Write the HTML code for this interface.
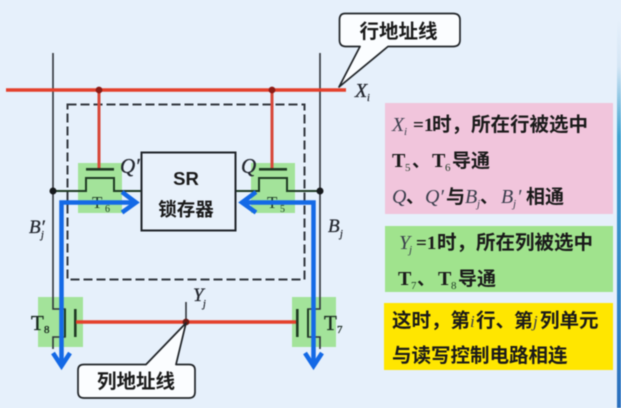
<!DOCTYPE html>
<html lang="zh">
<head>
<meta charset="utf-8">
<style>
html,body{margin:0;padding:0;background:#e6f0fb;}
#c{position:relative;width:621px;height:408px;overflow:hidden;background:#e6f0fb;filter:blur(0.5px);}
svg{position:absolute;left:0;top:0;}
.cjk{font-family:"Liberation Sans","Noto Sans CJK SC",sans-serif;font-weight:700;fill:#1a1a1a;}
.it{font-family:"Liberation Serif",serif;font-style:italic;font-weight:400;fill:#23272f;stroke:#23272f;stroke-width:0.3px;}
.il{font-family:"Liberation Serif",serif;font-style:italic;font-weight:400;fill:#3a3e4c;}
.rm{font-family:"Liberation Serif",serif;font-weight:700;fill:#1a1a1a;}
.rs{font-family:"Liberation Serif",serif;font-weight:400;fill:#1a2a20;stroke:#1a2a20;stroke-width:0.35px;}
.rn{font-family:"Liberation Serif",serif;font-weight:400;fill:#1c3a24;}
</style>
</head>
<body>
<div id="c">
<svg width="621" height="408" viewBox="0 0 621 408" xmlns="http://www.w3.org/2000/svg">
<defs>
<linearGradient id="edge" x1="0" y1="0" x2="0" y2="1">
<stop offset="0" stop-color="#e6f0fb"/>
<stop offset="0.12" stop-color="#d5e6f5"/>
<stop offset="0.3" stop-color="#3fa3d0"/>
<stop offset="1" stop-color="#2a6fbe"/>
</linearGradient>
</defs>

<rect x="617" y="20" width="4" height="388" fill="url(#edge)"/>

<!-- green transistor zones -->
<rect x="78" y="163" width="44" height="50" fill="#a3e39a"/>
<rect x="251" y="163" width="44" height="50" fill="#a3e39a"/>
<rect x="38" y="297" width="45" height="50" fill="#a3e39a"/>
<rect x="292" y="297" width="44" height="50" fill="#a3e39a"/>

<!-- dashed cell -->
<rect x="67.500" y="104.500" width="237" height="175" fill="none" stroke="#33383f" stroke-width="2" stroke-dasharray="9 4"/>

<!-- bit lines -->
<path d="M53 53V309H65V337H53V349" fill="none" stroke="#30343a" stroke-width="1.600"/>
<path d="M320 53V309H308V337H320V349" fill="none" stroke="#30343a" stroke-width="1.600"/>

<!-- source-drain -->
<path d="M53 191H86V178H114V191H141" fill="none" stroke="#1f3b24" stroke-width="2"/>
<path d="M235 191H259V178H287V191H320" fill="none" stroke="#1f3b24" stroke-width="2"/>
<rect x="86" y="168" width="28" height="2.600" fill="#1f3b24"/>
<rect x="259" y="168" width="28" height="2.600" fill="#1f3b24"/>
<rect x="74" y="309" width="2.600" height="28" fill="#1f3b24"/>
<rect x="296" y="309" width="2.600" height="28" fill="#1f3b24"/>
<path d="M65 309V337" stroke="#1f3b24" stroke-width="2" fill="none"/>
<path d="M308 309V337" stroke="#1f3b24" stroke-width="2" fill="none"/>

<!-- red lines -->
<path d="M6 90H346" stroke="#e4402c" stroke-width="3.400" fill="none"/>
<path d="M99 90V168M272 90V168" stroke="#d8483a" stroke-width="3" fill="none"/>
<path d="M76 322H296" stroke="#e4402c" stroke-width="3.400" fill="none"/>
<path d="M186 302V322" stroke="#30343a" stroke-width="1.600" fill="none"/>

<!-- dots -->
<circle cx="99" cy="90" r="3.400" fill="#8c1c16"/>
<circle cx="272" cy="90" r="3.400" fill="#8c1c16"/>
<circle cx="53" cy="191" r="3.500" fill="#16191c"/>
<circle cx="320" cy="191" r="3.500" fill="#16191c"/>
<circle cx="186" cy="322" r="3.400" fill="#6b1a14"/>

<!-- latch -->
<rect x="141.500" y="152.500" width="94" height="78" fill="#e8f1fb" stroke="#20242a" stroke-width="2"/>
<text x="186" y="185" text-anchor="middle" class="cjk" font-size="18.500">SR</text>
<text x="186" y="216" text-anchor="middle" class="cjk" font-size="18.500">锁存器</text>

<!-- T labels behind arrows -->
<text x="92" y="208" class="rn" font-size="17">T</text>
<text x="105" y="212" class="rn" font-size="10">6</text>
<text x="267" y="208" class="rn" font-size="17">T</text>
<text x="280" y="212" class="rn" font-size="10">5</text>
<text x="31" y="330" class="rs" font-size="21">T</text>
<text x="44" y="333" class="rs" font-size="11">8</text>
<text x="324" y="330" class="rs" font-size="21">T</text>
<text x="337" y="333" class="rs" font-size="11">7</text>

<!-- blue arrows -->
<path d="M61.500 366V202.500H134" fill="none" stroke="#1469e6" stroke-width="4.500"/>
<path d="M122 192L136 202.500L122 212.500" fill="none" stroke="#1469e6" stroke-width="4.500"/>
<path d="M53 353L61.500 366L70 353" fill="none" stroke="#1469e6" stroke-width="4.500"/>
<path d="M313.500 366V202.500H243" fill="none" stroke="#1469e6" stroke-width="4.500"/>
<path d="M256 192L242 202.500L256 212.500" fill="none" stroke="#1469e6" stroke-width="4.500"/>
<path d="M305 353L313.500 366L322 353" fill="none" stroke="#1469e6" stroke-width="4.500"/>

<!-- signal labels -->
<text x="120" y="173" class="it" font-size="21">Q′</text>
<text x="241" y="173" class="it" font-size="21">Q</text>
<text x="29" y="233" class="it" font-size="19">B′</text>
<text x="41" y="238" class="it" font-size="10">j</text>
<text x="328" y="232" class="it" font-size="19">B</text>
<text x="340" y="237" class="it" font-size="10">j</text>
<text x="355" y="97" class="it" font-size="20">X</text>
<text x="367" y="101" class="it" font-size="10">i</text>
<text x="193" y="301" class="it" font-size="19">Y</text>
<text x="203" y="307" class="it" font-size="10">j</text>

<!-- callouts -->
<path d="M345 13.500H453Q460 13.500 460 20V40Q460 46.500 453 46.500H388L339 87L360 46.500H346Q339.500 46.500 339.500 40V20Q339.500 13.500 345 13.500Z" fill="#fbfdff" stroke="#202428" stroke-width="1.700" stroke-linejoin="round"/>
<text x="398.500" y="38" text-anchor="middle" class="cjk" font-size="19.500">行地址线</text>
<path d="M84 364.500H146L186 323L176 364.500H189Q195 364.500 195 370V392Q195 398 189 398H84Q78 398 78 392V370Q78 364.500 84 364.500Z" fill="#fbfdff" stroke="#202428" stroke-width="1.700" stroke-linejoin="round"/>
<text x="136" y="388" text-anchor="middle" class="cjk" font-size="19.500">列地址线</text>

<!-- panels -->
<rect x="385" y="103" width="228" height="111" fill="#f1c5dc"/>
<rect x="385" y="226" width="228" height="66" fill="#a0e38d"/>
<rect x="384" y="303" width="229" height="67" fill="#ffe600"/>

<!-- pink text -->
<text x="392" y="131" class="il" font-size="20">X</text>
<text x="404" y="135" class="il" font-size="11">i</text>
<text x="413" y="131" class="rm" font-size="19">=1</text>
<text x="432" y="131" class="cjk" font-size="19.500">时，所在行被选中</text>
<text x="392" y="167" class="rm" font-size="20">T</text>
<text x="405" y="171" class="rn" font-size="11">5</text>
<text x="412" y="167" class="cjk" font-size="18">、</text>
<text x="432" y="167" class="rm" font-size="20">T</text>
<text x="445" y="171" class="rn" font-size="11">6</text>
<text x="452" y="167" class="cjk" font-size="19">导通</text>
<text x="392" y="203" class="il" font-size="20">Q</text>
<text x="406" y="203" class="cjk" font-size="18">、</text>
<text x="425" y="203" class="il" font-size="20">Q′</text>
<text x="446" y="203" class="cjk" font-size="19">与</text>
<text x="465" y="203" class="il" font-size="20">B</text>
<text x="477" y="207" class="il" font-size="11">j</text>
<text x="480" y="203" class="cjk" font-size="18">、</text>
<text x="501" y="203" class="il" font-size="20">B</text>
<text x="513" y="207" class="il" font-size="11">j</text>
<text x="517" y="203" class="il" font-size="20">′</text>
<text x="526" y="203" class="cjk" font-size="19">相通</text>

<!-- green text -->
<text x="399" y="249" class="il" font-size="20">Y</text>
<text x="409" y="253" class="il" font-size="11">j</text>
<text x="416" y="249" class="rm" font-size="19">=1</text>
<text x="437" y="249" class="cjk" font-size="19.500">时，所在列被选中</text>
<text x="398" y="285" class="rm" font-size="20">T</text>
<text x="411" y="289" class="rn" font-size="11">7</text>
<text x="417" y="285" class="cjk" font-size="18">、</text>
<text x="438" y="285" class="rm" font-size="20">T</text>
<text x="451" y="289" class="rn" font-size="11">8</text>
<text x="458" y="285" class="cjk" font-size="19">导通</text>

<!-- yellow text -->
<text x="392" y="327" class="cjk" font-size="19.500">这时，第</text>
<text x="470" y="327" class="il" font-size="17">i</text>
<text x="476" y="327" class="cjk" font-size="19.500">行、</text>
<text x="514" y="327" class="cjk" font-size="19">第</text>
<text x="533" y="327" class="il" font-size="17">j</text>
<text x="540" y="327" class="cjk" font-size="19.500">列单元</text>
<text x="392" y="362" class="cjk" font-size="19.500">与读写控制电路相连</text>
</svg>
</div>
</body>
</html>
